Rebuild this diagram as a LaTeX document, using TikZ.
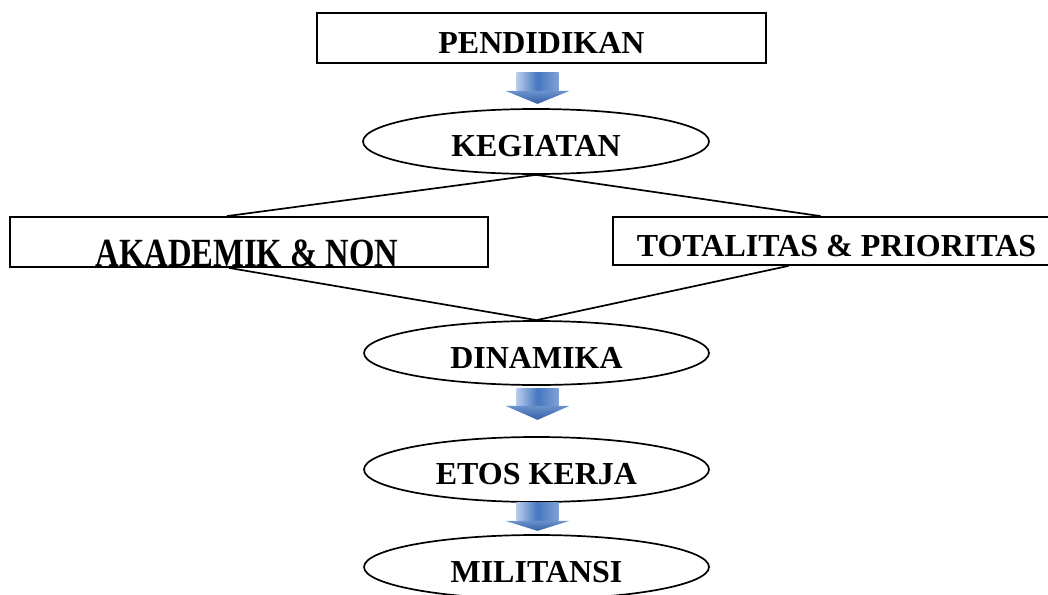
\documentclass[tikz,border=0pt]{standalone}
\usepackage{fontspec}
\usepackage{graphicx}
\setmainfont{Liberation Serif}
\usetikzlibrary{calc,shapes.geometric}
\definecolor{arrowlight}{HTML}{B9CCEC}
\definecolor{arrowmid}{HTML}{4677C0}
\definecolor{arrowdark}{HTML}{355FA6}
\begin{document}
\begin{tikzpicture}[x=1pt,y=-1pt,
  lbl/.style={font=\bfseries\fontsize{32}{36}\selectfont},
  box/.style={draw, line width=1.8pt, rectangle, inner sep=0pt, text height=30pt, text depth=0pt, lbl},
  oval/.style={draw, line width=1.7pt, ellipse, inner sep=0pt, minimum width=345pt, minimum height=64pt, text height=30pt, text depth=0pt, lbl},
  link/.style={line width=1.7pt},
  pics/blockarrow/.style 2 args={code={
    \shade[left color=arrowlight, right color=arrowlight!50!arrowmid, middle color=arrowmid] (-21,0) rectangle (21,#1);
    \shade[top color=arrowmid!80!white, bottom color=arrowdark] (-32,#1) -- (32,#1) -- (0,#1+#2) -- cycle;
  }}]
\useasboundingbox (0,0) rectangle (1048,594);
\clip (0,0) rectangle (1048,594);
\fill[white] (0,0) rectangle (1048,594);

\node[box, minimum width=449pt, minimum height=50pt] (pend) at (541.5,38) {PENDIDIKAN};
\node[oval, minimum width=346pt, minimum height=65pt] (keg) at (536,141.5) {KEGIATAN};
\node[box, minimum width=478pt, minimum height=50pt] (aka) at (249,242) {};
\node[box, minimum width=447pt, minimum height=48pt] (tot) at (836.5,241) {TOTALITAS \& PRIORITAS};
\node[oval] (din) at (536.5,353) {DINAMIKA};
\node[oval, minimum height=65pt] (etos) at (536.5,469.5) {ETOS KERJA};
\node[oval] (mil) at (536.5,567) {MILITANSI};

\begin{scope}
  \clip ($(aka.south west)+(0.9,-0.9)$) rectangle ($(aka.north east)+(-0.9,0.9)$);
  \node[lbl, anchor=base, inner sep=0pt] (akatext) at (247,266) {\scalebox{1.02}[1.25]{AKADEMIK \& NON}};
\end{scope}

\draw[link] (keg.south) -- ($(aka.north)+(-22,0)$);
\draw[link] (keg.south) -- ($(tot.north)+(-16,0)$);
\draw[link] ($(aka.south)+(-20,0)$) -- (din.north);
\draw[link] ($(tot.south)+(-48,0)$) -- (din.north);

\pic at ($(pend.south)+(-4,9)$) {blockarrow={18}{13}};
\pic at ($(din.south)+(1,3)$) {blockarrow={17}{14}};
\pic at ($(etos.south)+(1,0)$) {blockarrow={18}{10}};
\end{tikzpicture}
\end{document}
